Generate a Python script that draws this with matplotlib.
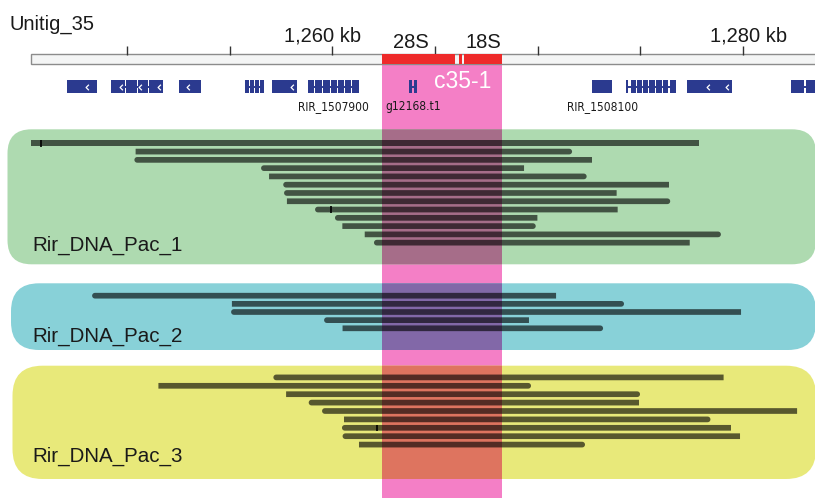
import numpy as np
import matplotlib
matplotlib.use("Agg")
import matplotlib.pyplot as plt
from matplotlib.patches import FancyBboxPatch, Rectangle, Polygon
from matplotlib.transforms import Affine2D
from matplotlib.colors import to_rgb
from matplotlib import font_manager as fm

# ------------------------------------------------------------------ data
contig_name = "Unitig_35"
ruler_ticks_kb = [1250, 1255, 1260, 1265, 1270, 1275, 1280]
ruler_label_kb = [1260, 1280]
ruler_label_text = ["1,260 kb", "1,280 kb"]

rdna_start = [1262.41, 1266.18, 1266.41]
rdna_end = [1265.97, 1266.33, 1268.27]
rdna_label = ["28S", "", "18S"]

cluster_name = "c35-1"
cluster_start = 1262.41
cluster_end = 1268.27

gene_names = ["", "", "", "", "", "RIR_1507900", "g12168.t1", "RIR_1508100", "", "", ""]
gene_exons = [
    [(1247.08, 1248.51)],
    [(1249.21, 1249.89), (1249.94, 1250.48), (1250.53, 1250.99), (1251.04, 1251.73)],
    [(1252.52, 1253.58)],
    [(1255.74, 1255.93), (1255.98, 1256.18), (1256.23, 1256.42), (1256.47, 1256.66)],
    [(1257.04, 1258.26)],
    [(1258.79, 1259.10), (1259.15, 1259.49), (1259.54, 1259.88), (1259.93, 1260.22),
     (1260.27, 1260.56), (1260.61, 1260.90), (1260.95, 1261.31)],
    [(1263.74, 1263.86), (1263.98, 1264.10)],
    [(1272.65, 1273.63)],
    [(1274.28, 1274.38), (1274.54, 1274.78), (1274.83, 1275.08), (1275.12, 1275.37),
     (1275.44, 1275.71), (1275.78, 1276.05), (1276.10, 1276.34), (1276.42, 1276.72)],
    [(1277.25, 1279.44)],
    [(1282.33, 1282.98), (1283.05, 1284.30)],
]
gene_arrows = [[1248.03], [1249.70, 1250.62, 1251.55], [1252.96], [], [1258.01],
               [], [], [], [], [1278.28, 1279.20], []]

track_names = ["Rir_DNA_Pac_1", "Rir_DNA_Pac_2", "Rir_DNA_Pac_3"]

pac1_start = [1245.31, 1250.41, 1250.35, 1256.52, 1256.91, 1257.60, 1257.64,
              1257.78, 1259.15, 1260.12, 1260.48, 1261.57, 1262.02]
pac1_end = [1277.84, 1271.67, 1272.64, 1269.33, 1272.38, 1276.39, 1273.84,
            1276.45, 1273.89, 1269.98, 1269.90, 1278.92, 1277.40]
pac1_strand = [".", "+", "-", "-", "+", "-", "-", "+", "-", "-", "+", "+", "-"]

pac2_start = [1248.29, 1255.10, 1255.06, 1259.59, 1260.49]
pac2_end = [1270.89, 1274.20, 1279.90, 1269.57, 1273.18]
pac2_strand = ["-", "+", "-", "-", "+"]

pac3_start = [1257.12, 1251.52, 1257.74, 1258.84, 1259.49, 1260.56, 1260.46, 1260.49, 1261.29]
pac3_end = [1279.05, 1269.67, 1274.98, 1274.93, 1282.63, 1278.41, 1279.41, 1279.85, 1272.30]
pac3_strand = ["-", "+", "+", "-", "-", "+", "-", "-", "+"]

# small indel marks on reads: (track index, row index, position kb)
mark_track = [0, 0, 2]
mark_row = [0, 8, 6]
mark_kb = [1245.79, 1259.93, 1262.16]

# ------------------------------------------------------------------ layout / style
W, H = 815, 498
PX_REF, KB_REF, SCALE = 332.5, 1260.0, 20.53   # pixel x of 1,260 kb, px per kb


def kb_at(px):
    return KB_REF + (px - PX_REF) / SCALE


FONT = ["Liberation Sans", "DejaVu Sans"]
# condensed face for gene names if one is installed
gene_font = dict(family=["Liberation Sans", "DejaVu Sans"], fontsize=8.0)
for fam in ["Liberation Sans Narrow", "DejaVu Sans"]:
    try:
        path = fm.findfont(fm.FontProperties(family=fam, stretch="condensed"),
                           fallback_to_default=False)
    except Exception:
        continue
    if "Narrow" in path or "Condensed" in path:
        gene_font = dict(family=[fam, "DejaVu Sans"], stretch="condensed",
                         fontsize=9.5 if "Narrow" in path else 8.6)
        break

TXT = "#1a1a1a"
PINK = "#F47FC6"
RED = "#EE2A2A"
BLUE = "#2B3A8F"
panel_colors = ["#AEDAB0", "#88D1D8", "#E8E97A"]
# panel box: left, top, right, bottom, rounding (pixels)
panel_box = [(7.5, 129.3, 816, 264.3, 24), (11, 283.3, 816, 350, 28), (12.5, 365.7, 816, 479, 30)]
row_y0 = [143.3, 295.7, 377.4]
row_step = [8.28, 8.15, 8.4]
label_baseline = [250.5, 341.5, 461.5]
READ_H = 5.7

fig = plt.figure(figsize=(W / 100, H / 100), dpi=100)
ax = fig.add_axes([0, 0, 1, 1])
ax.set_xlim(kb_at(0), kb_at(W))
ax.set_ylim(H, 0)
ax.axis("off")

# pixel-space transform for layout objects (x right, y down from top)
PXT = Affine2D().scale(1 / W, -1 / H).translate(0, 1) + fig.transFigure

# contig name
ax.text(9.3, 29.3, contig_name, transform=PXT, fontsize=14.5, family=FONT,
        color=TXT, ha="left", va="baseline")

# ruler
ax.add_patch(Rectangle((31, 54.5), 810, 9.5, transform=PXT, facecolor="#F4F5F5",
                       edgecolor="#8C8C8C", lw=1.0, zorder=2))
ax.vlines(ruler_ticks_kb, 45.5, 54.5, color="#333333", lw=1.0, zorder=2)
for k, t, dx in zip(ruler_label_kb, ruler_label_text, [-10, 5]):
    ax.annotate(t, xy=(k, 41), xytext=(dx, 0), textcoords="offset pixels",
                ha="center", va="baseline", fontsize=14.5, family=FONT, color=TXT)

# rDNA features on ruler
ax.barh([59.25] * len(rdna_start), np.subtract(rdna_end, rdna_start), left=rdna_start,
        height=9.6, color=RED, zorder=3)
for s, e, lab, dx in zip(rdna_start, rdna_end, rdna_label, [-8, 0, 0]):
    if lab:
        ax.annotate(lab, xy=((s + e) / 2, 48.3), xytext=(dx, 0), textcoords="offset pixels",
                    ha="center", va="baseline", fontsize=14.5, family=FONT, color=TXT)

# cluster highlight band
ax.add_patch(Rectangle((cluster_start, 64.2), cluster_end - cluster_start, H - 64.2 + 5,
                       facecolor=PINK, edgecolor="none", zorder=1))
ax.annotate(cluster_name, xy=(cluster_end, 87.7), xytext=(-10.5, 0), textcoords="offset pixels",
            ha="right", va="baseline", fontsize=16.5, family=FONT, color="white", zorder=6)

# genes
GY, GH = 86.5, 12.7
chev = [(0.5, 1.0), (-0.5, 0.0), (0.5, -1.0)]
for name, exons, arrows in zip(gene_names, gene_exons, gene_arrows):
    gs, ge = exons[0][0], exons[-1][1]
    ax.hlines(GY, gs, ge, color=BLUE, lw=1.4, zorder=4)
    ax.barh([GY] * len(exons), [e - s for s, e in exons], left=[s for s, e in exons],
            height=GH, color=BLUE, zorder=4)
    if arrows:
        ax.plot(arrows, [GY] * len(arrows), ls="none", marker=chev, ms=4.0,
                mfc="none", mec="white", mew=0.9, zorder=5)
    if name:
        ax.text((gs + ge) / 2, 109.8, name, ha="center", va="baseline",
                color=TXT, zorder=5, **gene_font)

# tracks
pink_rgb = np.array(to_rgb(PINK))
starts = [pac1_start, pac2_start, pac3_start]
ends = [pac1_end, pac2_end, pac3_end]
strands = [pac1_strand, pac2_strand, pac3_strand]


def read_polygon(s, e, yc, strand):
    r = READ_H / 2
    rk = r / SCALE
    if strand == "-":
        th = np.linspace(np.pi / 2, 3 * np.pi / 2, 10)
        left = list(zip(s + rk + rk * np.cos(th), yc - r * np.sin(th)))
    else:
        left = [(s, yc - r), (s, yc + r)]
    if strand == "+":
        th = np.linspace(-np.pi / 2, np.pi / 2, 10)
        right = list(zip(e - rk + rk * np.cos(th), yc - r * np.sin(th)))
    else:
        right = [(e, yc + r), (e, yc - r)]
    return left + right


for i, name in enumerate(track_names):
    l, t, r, b, rad = panel_box[i]
    panel = FancyBboxPatch((l, t), r - l, b - t, boxstyle=f"round,pad=0,rounding_size={rad}",
                           transform=PXT, facecolor=panel_colors[i], edgecolor="none", zorder=2)
    ax.add_patch(panel)
    mult = tuple(pink_rgb * np.array(to_rgb(panel_colors[i])))
    over = Rectangle((cluster_start, t - 2), cluster_end - cluster_start, b - t + 4,
                     facecolor=mult, edgecolor="none", zorder=2.5)
    ax.add_patch(over)
    over.set_clip_path(panel)
    ax.text(32, label_baseline[i], name, transform=PXT, fontsize=14.8,
            family=FONT, color=TXT, ha="left", va="baseline", zorder=5)
    for j, (s, e, st) in enumerate(zip(starts[i], ends[i], strands[i])):
        yc = row_y0[i] + j * row_step[i]
        ax.add_patch(Polygon(read_polygon(s, e, yc, st), closed=True, facecolor="black",
                             alpha=0.62, edgecolor="none", zorder=4))

for tr, rw, k in zip(mark_track, mark_row, mark_kb):
    yc = row_y0[tr] + rw * row_step[tr]
    ax.vlines(k, yc - 3.2, yc + 3.2, color="black", lw=1.2, zorder=5)

fig.savefig("out.png", dpi=100)
